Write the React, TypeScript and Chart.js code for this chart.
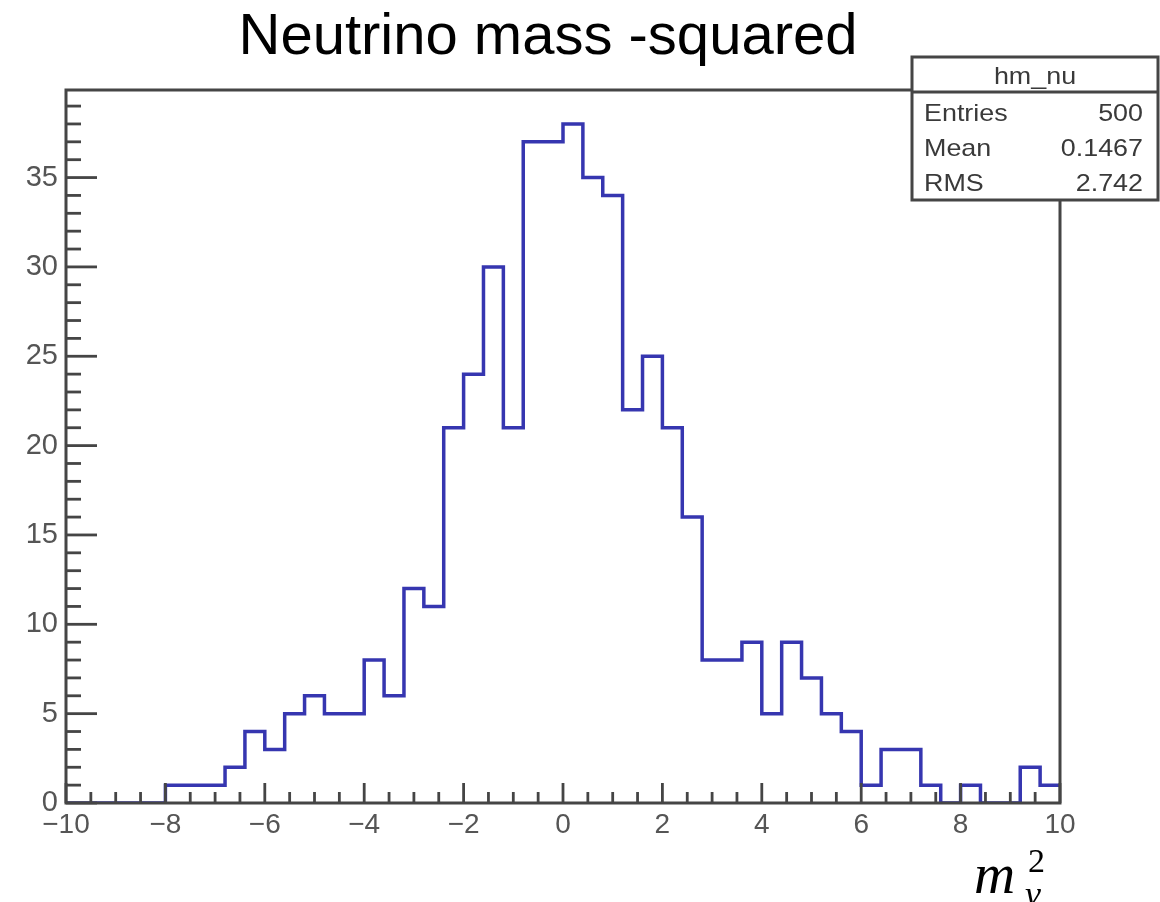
import { useEffect, useRef } from "react";
import { Chart, registerables } from "chart.js";

Chart.register(...registerables);

// Histogram definition: 50 bins of width 0.4 spanning [-10, 10]
const titleText = "Neutrino mass -squared";
const histName = "hm_nu";
const binLow = -10;
const binWidth = 0.4;
const binCounts = [
  0, 0, 0, 0, 0, 1, 1, 1, 2, 4,
  3, 5, 6, 5, 5, 8, 6, 12, 11, 21,
  24, 30, 21, 37, 37, 38, 35, 34, 22, 25,
  21, 16, 8, 8, 9, 5, 9, 7, 5, 4,
  1, 3, 3, 1, 0, 1, 0, 0, 2, 1,
];

// Statistics box rows
const statLabels = ["Entries", "Mean", "RMS"];
const statValues = ["500", "0.1467", "2.742"];

// Axes
const xRange = [-10, 10];
const yRange = [0, 39.9];
const xTickValues = [-10, -8, -6, -4, -2, 0, 2, 4, 6, 8, 10];
const yTickValues = [0, 5, 10, 15, 20, 25, 30, 35];
const xMinorStep = 0.5;
const yMinorStep = 1;

const sansFont = "'Liberation Sans', Arial, Helvetica, sans-serif";
const serifFont = "'Liberation Serif', 'Times New Roman', serif";
const axisColor = "#454545";
const labelColor = "#555555";
const lineColor = "#3636b0";

// Axis numbers use a typographic minus, as ROOT does
const formatTick = (v: number) => (v < 0 ? "\u2212" + String(-v) : String(v));

export default function App() {
  const canvasRef = useRef<HTMLCanvasElement>(null);

  useEffect(() => {
    const canvas = canvasRef.current;
    if (!canvas) return;

    // Step outline: one point at each bin's lower edge, plus the upper edge of the last bin
    const points = binCounts.map((c, i) => ({ x: binLow + i * binWidth, y: c }));
    points.push({
      x: binLow + binCounts.length * binWidth,
      y: binCounts[binCounts.length - 1],
    });

    const rootFrame = {
      id: "rootFrame",
      beforeDraw(chart: any) {
        const { ctx, width, height } = chart;
        ctx.save();
        ctx.fillStyle = "#ffffff";
        ctx.fillRect(0, 0, width, height);
        ctx.restore();
      },
      afterDatasetsDraw(chart: any) {
        const { ctx, chartArea: a, scales } = chart;
        const xs = scales.x;
        const ys = scales.y;
        ctx.save();
        ctx.strokeStyle = axisColor;
        ctx.lineWidth = 3;
        ctx.lineCap = "butt";
        ctx.strokeRect(a.left, a.top, a.right - a.left, a.bottom - a.top);

        ctx.lineWidth = 2.8;
        // y axis ticks, pointing into the frame
        for (let k = 0; ; k++) {
          const v = yRange[0] + k * yMinorStep;
          if (v > yRange[1] + 1e-9) break;
          const major = yTickValues.includes(v);
          const py = ys.getPixelForValue(v);
          const len = major ? 31 : 15;
          ctx.beginPath();
          ctx.moveTo(a.left, py);
          ctx.lineTo(a.left + len, py);
          ctx.stroke();
        }
        // x axis ticks, pointing up into the frame
        for (let k = 0; ; k++) {
          const v = xRange[0] + k * xMinorStep;
          if (v > xRange[1] + 1e-9) break;
          const major = xTickValues.some((t) => Math.abs(t - v) < 1e-9);
          const px = xs.getPixelForValue(v);
          const len = major ? 20 : 11;
          ctx.beginPath();
          ctx.moveTo(px, a.bottom);
          ctx.lineTo(px, a.bottom - len);
          ctx.stroke();
        }
        ctx.restore();
      },
      afterDraw(chart: any) {
        const { ctx } = chart;
        ctx.save();

        // Title
        ctx.fillStyle = "#000000";
        ctx.font = `58px ${sansFont}`;
        ctx.textAlign = "center";
        ctx.textBaseline = "alphabetic";
        ctx.fillText(titleText, 548, 54);

        // Statistics box
        const bx = 912;
        const by = 57;
        const bw = 246;
        const bh = 143;
        ctx.fillStyle = "#ffffff";
        ctx.fillRect(bx, by, bw, bh);
        ctx.strokeStyle = axisColor;
        ctx.lineWidth = 3;
        ctx.strokeRect(bx, by, bw, bh);
        ctx.beginPath();
        ctx.moveTo(bx, 92);
        ctx.lineTo(bx + bw, 92);
        ctx.stroke();

        const sx = 1.12;
        ctx.fillStyle = "#3a3a3a";
        ctx.font = `24px ${sansFont}`;
        ctx.save();
        ctx.scale(sx, 1);
        ctx.textAlign = "center";
        ctx.fillText(histName, 1035 / sx, 84);
        const rowY = [121, 156, 191];
        statLabels.forEach((lab, i) => {
          ctx.textAlign = "left";
          ctx.fillText(lab, 924 / sx, rowY[i]);
          ctx.textAlign = "right";
          ctx.fillText(statValues[i], 1143 / sx, rowY[i]);
        });
        ctx.restore();

        // x axis title: m_nu^2
        ctx.fillStyle = "#000000";
        ctx.textAlign = "left";
        ctx.font = `italic 57px ${serifFont}`;
        ctx.fillText("m", 974, 893);
        ctx.font = `34px ${serifFont}`;
        ctx.fillText("2", 1028, 872);
        ctx.font = `italic 36px ${serifFont}`;
        ctx.fillText("\u03BD", 1025, 906);

        ctx.restore();
      },
    };

    const chart = new Chart(canvas, {
      type: "line",
      data: {
        datasets: [
          {
            data: points,
            stepped: true,
            borderColor: lineColor,
            borderWidth: 3.5,
            pointRadius: 0,
            fill: false,
            tension: 0,
          },
        ],
      },
      options: {
        responsive: false,
        animation: false,
        parsing: false as any,
        layout: { padding: { left: 0, top: 90, right: 100, bottom: 0 } },
        plugins: {
          legend: { display: false },
          tooltip: { enabled: false },
          title: { display: false },
        },
        scales: {
          x: {
            type: "linear",
            min: xRange[0],
            max: xRange[1],
            afterBuildTicks: (s: any) => {
              s.ticks = xTickValues.map((v) => ({ value: v }));
            },
            afterFit: (s: any) => {
              s.height = 99;
            },
            grid: { display: false, drawTicks: false },
            border: { display: false },
            ticks: {
              autoSkip: false,
              maxRotation: 0,
              padding: 5,
              color: labelColor,
              font: { family: sansFont, size: 28 },
              callback: (v: any) => formatTick(Number(v)),
            },
          },
          y: {
            type: "linear",
            min: yRange[0],
            max: yRange[1],
            afterBuildTicks: (s: any) => {
              s.ticks = yTickValues.map((v) => ({ value: v }));
            },
            afterFit: (s: any) => {
              s.width = 66;
            },
            grid: { display: false, drawTicks: false },
            border: { display: false },
            ticks: {
              autoSkip: false,
              padding: 8,
              color: labelColor,
              font: { family: sansFont, size: 29 },
              callback: (v: any) => formatTick(Number(v)),
            },
          },
        },
      },
      plugins: [rootFrame],
    });

    return () => {
      chart.destroy();
    };
  }, []);

  return (
    <div style={{ position: "fixed", left: 0, top: 0, width: 1160, height: 902 }}>
      <canvas ref={canvasRef} width={1160} height={902} />
    </div>
  );
}
